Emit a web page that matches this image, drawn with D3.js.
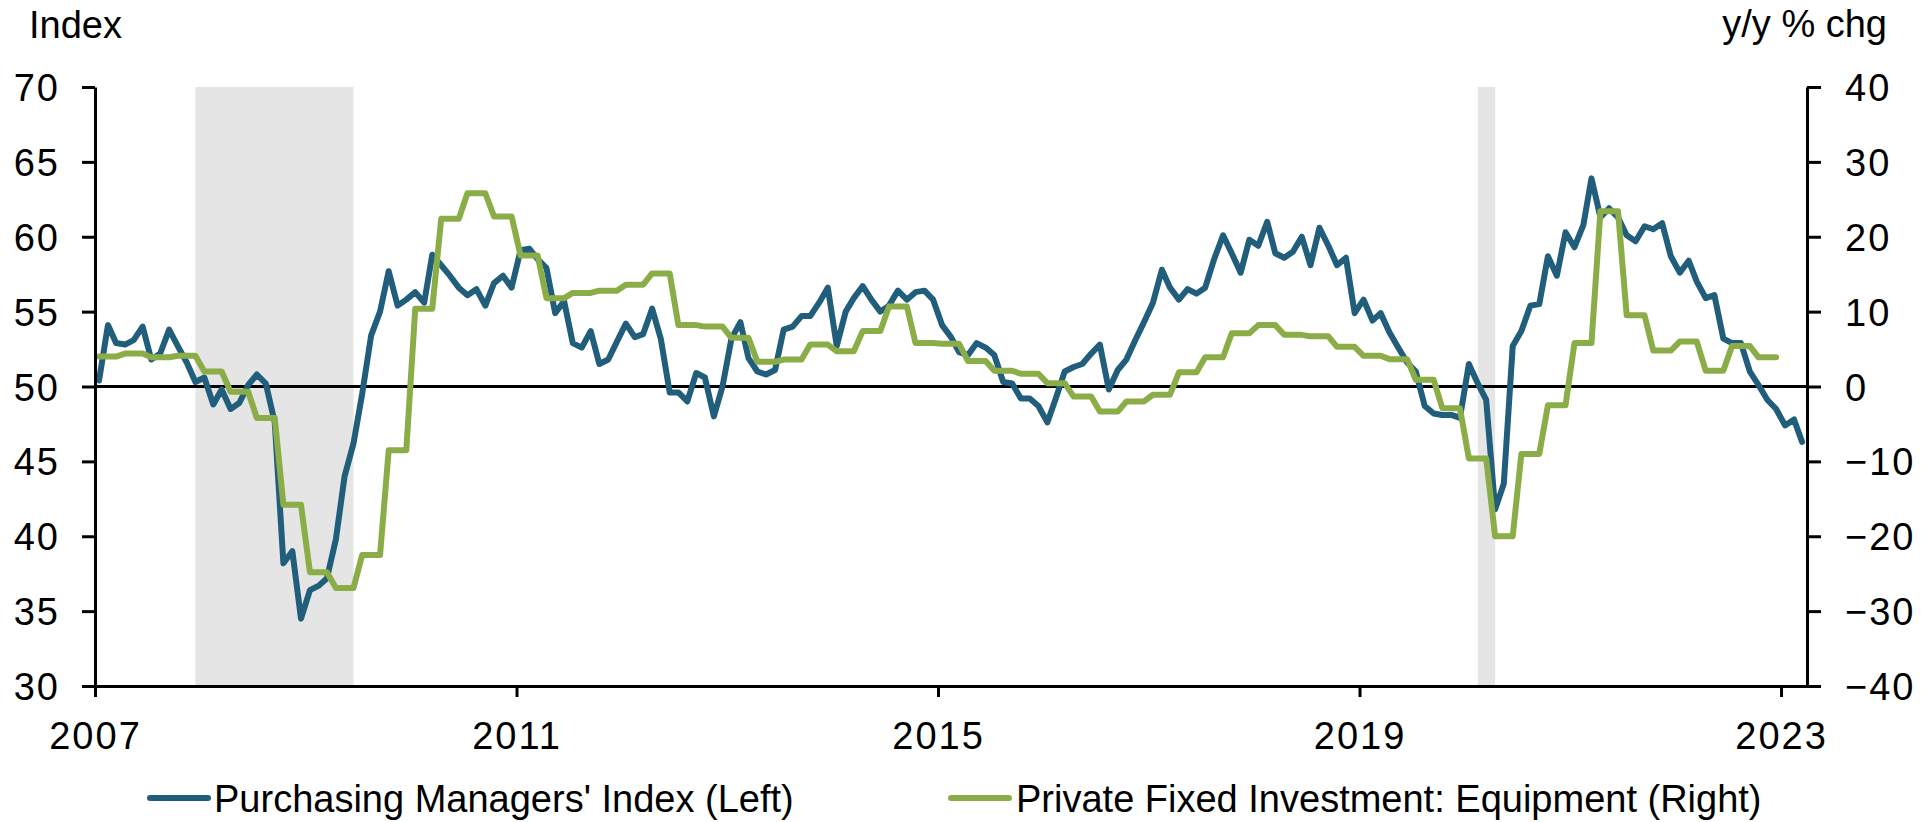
<!DOCTYPE html>
<html><head><meta charset="utf-8">
<script src="https://cdn.jsdelivr.net/npm/d3@7"></script>
<style>
body{margin:0;background:#fff}
svg text{font-family:"Liberation Sans",Arial,sans-serif;fill:#000}
</style>
</head><body>
<svg id="chart" width="1925" height="822"></svg>
<script>
// ---- data ----
// ISM Purchasing Managers' Index, monthly Jan 2007 - Mar 2023 (left axis)
const pmi = [
50.4,54.1,52.9,52.8,53.1,54.0,51.8,52.2,53.8,52.7,51.6,50.3,
50.6,48.8,49.8,48.5,48.9,50.1,50.8,50.2,47.6,38.2,39.0,34.5,
36.4,36.7,37.2,39.8,44.0,46.2,49.5,53.4,55.0,57.7,55.4,55.8,
56.3,55.6,58.8,58.1,57.4,56.6,56.1,56.5,55.4,56.9,57.4,56.6,
59.1,59.2,58.5,57.9,54.9,55.7,52.9,52.6,53.7,51.5,51.8,53.0,
54.2,53.3,53.5,55.2,53.2,49.6,49.6,49.0,50.9,50.6,48.0,50.0,
53.2,54.3,51.9,51.0,50.8,51.1,53.8,54.0,54.7,54.7,55.6,56.6,
52.7,55.0,55.9,56.7,55.8,55.0,55.4,56.4,55.8,56.3,56.4,55.8,
54.1,53.3,52.3,52.1,52.9,52.6,52.1,50.3,50.2,49.2,49.2,48.7,
47.6,49.3,51.0,51.3,51.5,52.2,52.8,49.8,51.1,51.8,53.1,54.3,
55.6,57.8,56.6,55.8,56.5,56.2,56.6,58.5,60.1,58.9,57.6,59.8,
59.4,61.0,58.9,58.6,59.0,60.0,58.1,60.6,59.4,58.1,58.6,54.9,
55.8,54.4,54.9,53.6,52.6,51.6,51.0,48.7,48.2,48.1,48.1,47.9,
51.5,50.2,49.1,41.8,43.5,52.7,53.7,55.4,55.5,58.7,57.4,60.3,
59.3,60.8,63.9,61.3,61.9,61.3,60.1,59.7,60.7,60.5,60.9,58.7,
57.6,58.4,57.0,55.9,56.1,53.2,52.9,52.9,51.0,50.1,49.1,48.5,
47.4,47.8,46.3
];
// Private fixed investment: equipment, y/y % chg, quarterly 2007Q1 - 2022Q4 (right axis)
const equipment = [
4.0,4.4,3.9,4.1,
2.0,-0.7,-4.2,-15.8,
-24.8,-26.9,-22.5,-8.5,
10.4,22.4,25.8,22.7,
17.5,11.8,12.5,12.8,
13.6,15.1,8.2,8.0,
6.5,3.3,3.6,5.6,
4.7,7.4,10.7,5.8,
5.7,3.4,2.1,1.7,
0.45,-1.35,-3.35,-2.0,
-1.1,1.9,3.9,7.1,
8.2,6.9,6.7,5.3,
4.1,3.65,0.9,-2.9,
-9.6,-20.0,-9.0,-2.5,
5.8,23.4,9.5,4.8,
6.0,2.1,5.4,3.9
];
const startYear = 2007;
const recessions = [["2007-12-15","2009-06-15"],["2020-02-15","2020-04-15"]];
const leftTicks = [30,35,40,45,50,55,60,65,70];
const rightTicks = [-40,-30,-20,-10,0,10,20,30,40];
const yearTicks = [2007,2011,2015,2019,2023];
const seriesNames = ["Purchasing Managers' Index (Left)","Private Fixed Investment: Equipment (Right)"];
const leftTitle = "Index";
const rightTitle = "y/y % chg";
const colors = {pmi:"#215E7B", equip:"#8BAD47", shade:"#E5E5E5"};

// ---- layout ----
const L = 95, R = 1807, T = 87, B = 686;
const svg = d3.select("#chart");
svg.append("rect").attr("width",1925).attr("height",822).attr("fill","#fff");

const x = d3.scaleTime().domain([new Date(2007,0,1), new Date(2023,3,1)]).range([L,R]);
const yL = d3.scaleLinear().domain([30,70]).range([B,T]);
const yR = d3.scaleLinear().domain([-40,40]).range([B,T]);
const monthDate = i => new Date(startYear, i, 15);

// recession shading
svg.append("g").selectAll("rect").data(recessions).join("rect")
  .attr("x", d => x(new Date(d[0]+"T00:00")))
  .attr("width", d => x(new Date(d[1]+"T00:00")) - x(new Date(d[0]+"T00:00")))
  .attr("y", T).attr("height", B - T)
  .attr("fill", colors.shade);

// zero line
svg.append("line").attr("x1",L).attr("x2",R).attr("y1",yR(0)).attr("y2",yR(0))
  .attr("stroke","#000").attr("stroke-width",3);

// series
const equipMonthly = [];
equipment.forEach((v,q) => { for (let k=0;k<3;k++) equipMonthly.push({i:q*3+k, v}); });

const linePMI = d3.line().x((d,i)=>x(monthDate(i))).y(d=>yL(d));
const lineEq = d3.line().x(d=>x(monthDate(d.i))).y(d=>yR(d.v));

svg.append("path").datum(pmi).attr("d",linePMI)
  .attr("fill","none").attr("stroke",colors.pmi).attr("stroke-width",6)
  .attr("stroke-linejoin","round").attr("stroke-linecap","round");
svg.append("path").datum(equipMonthly).attr("d",lineEq)
  .attr("fill","none").attr("stroke",colors.equip).attr("stroke-width",6)
  .attr("stroke-linejoin","round").attr("stroke-linecap","round");

// axes
function styleAxis(g){
  g.selectAll(".domain").attr("stroke","#000").attr("stroke-width",3);
  g.selectAll(".tick line").attr("stroke","#000").attr("stroke-width",3);
  g.selectAll(".tick text").attr("font-size",38).attr("fill","#000")
    .style("font-family",'"Liberation Sans",Arial,sans-serif').style("letter-spacing","2px");
  g.attr("font-family",null).attr("font-size",null);
}
const gL = svg.append("g").attr("transform",`translate(${L},0)`)
  .call(d3.axisLeft(yL).tickValues(leftTicks).tickSize(13).tickSizeOuter(0).tickPadding(22));
styleAxis(gL); gL.selectAll(".tick text").attr("dy","0.355em");

const gR = svg.append("g").attr("transform",`translate(${R},0)`)
  .call(d3.axisRight(yR).tickValues(rightTicks).tickSize(14).tickSizeOuter(0).tickPadding(24));
styleAxis(gR); gR.selectAll(".tick text").attr("dy","0.355em");

const gB = svg.append("g").attr("transform",`translate(0,${B})`)
  .call(d3.axisBottom(x).tickValues(yearTicks.map(y=>new Date(y,0,1)))
    .tickFormat(d3.timeFormat("%Y")).tickSize(11).tickSizeOuter(0).tickPadding(25));
styleAxis(gB);

// axis titles
svg.append("text").attr("x",29).attr("y",38).attr("font-size",38).text(leftTitle);
svg.append("text").attr("x",1887).attr("y",37).attr("font-size",38).attr("text-anchor","end").text(rightTitle);

// legend
const legend = [
  {name:seriesNames[0], color:colors.pmi, x1:150, x2:208, tx:214},
  {name:seriesNames[1], color:colors.equip, x1:951, x2:1009, tx:1016}
];
const lg = svg.append("g");
legend.forEach(d=>{
  lg.append("line").attr("x1",d.x1).attr("x2",d.x2).attr("y1",798).attr("y2",798)
    .attr("stroke",d.color).attr("stroke-width",6).attr("stroke-linecap","round");
  lg.append("text").attr("x",d.tx).attr("y",812).attr("font-size",38).text(d.name);
});
</script>
</body></html>
